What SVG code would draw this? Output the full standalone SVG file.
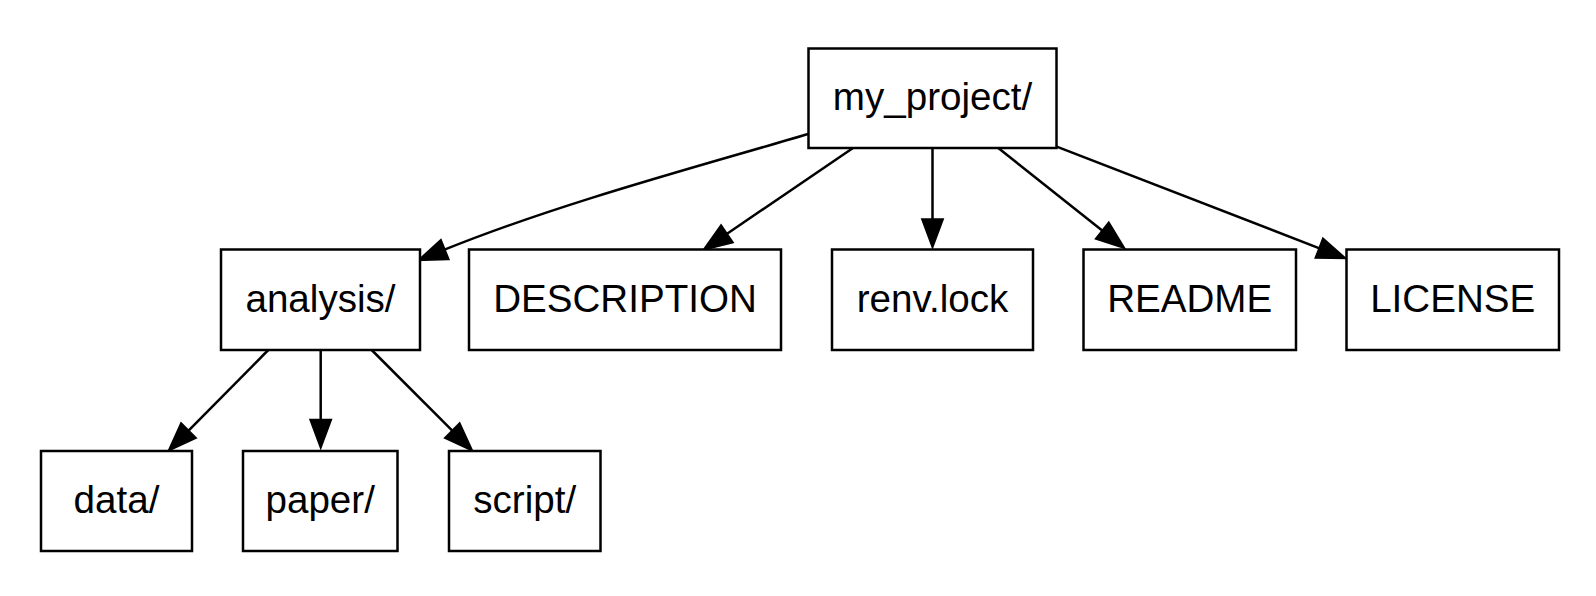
<svg xmlns="http://www.w3.org/2000/svg" width="1596" height="596" viewBox="0 0 1596 596">
  <style>
    .box { fill: #ffffff; stroke: #000000; stroke-width: 2.5; }
    .lbl { font-family: "Liberation Sans", Arial, Helvetica, sans-serif; font-size: 38.6px; fill: #000000; text-anchor: middle; }
    .edge { fill: none; stroke: #000000; stroke-width: 2.5; marker-end: url(#arrow); }
  </style>
  <defs>
    <marker id="arrow" markerUnits="userSpaceOnUse" viewBox="-2 -13 36 26" markerWidth="36" markerHeight="26" refX="0" refY="0" orient="auto">
      <path d="M0,-10 L27,0 L0,10 Z" fill="#000000" stroke="#000000" stroke-width="2.5"/>
    </marker>
  </defs>
  <rect width="1596" height="596" fill="#ffffff"/>

  <g id="connectors">
    <path class="edge" d="M808,134 C700,166 560,203 444.5,249.7"/>
    <path class="edge" d="M853,148 L726.7,234"/>
    <path class="edge" d="M932.5,148 L932.5,219.5"/>
    <path class="edge" d="M998.3,148 L1102.5,230.8"/>
    <path class="edge" d="M1056.7,146.7 L1319.5,248.3"/>
    <path class="edge" d="M268.3,350 L188.3,430.8"/>
    <path class="edge" d="M320.7,350 L320.7,420"/>
    <path class="edge" d="M371.7,350 L452.5,430.8"/>
  </g>

  <g id="node-my_project">
    <rect class="box" x="808.5" y="48.5" width="248" height="99.5"/>
    <text class="lbl" x="932.5" y="110">my_project/</text>
  </g>
  <g id="node-analysis">
    <rect class="box" x="221" y="249.5" width="199" height="100.5"/>
    <text class="lbl" x="320.5" y="311.5">analysis/</text>
  </g>
  <g id="node-DESCRIPTION">
    <rect class="box" x="469" y="249.5" width="312" height="100.5"/>
    <text class="lbl" x="625" y="311.5">DESCRIPTION</text>
  </g>
  <g id="node-renv_lock">
    <rect class="box" x="832" y="249.5" width="201" height="100.5"/>
    <text class="lbl" x="932.5" y="311.5">renv.lock</text>
  </g>
  <g id="node-README">
    <rect class="box" x="1083.5" y="249.5" width="212.5" height="100.5"/>
    <text class="lbl" x="1189.7" y="311.5">README</text>
  </g>
  <g id="node-LICENSE">
    <rect class="box" x="1346.5" y="249.5" width="212.5" height="100.5"/>
    <text class="lbl" x="1452.7" y="311.5">LICENSE</text>
  </g>
  <g id="node-data">
    <rect class="box" x="41" y="451" width="151" height="100"/>
    <text class="lbl" x="116.5" y="512.5">data/</text>
  </g>
  <g id="node-paper">
    <rect class="box" x="243" y="451" width="154.5" height="100"/>
    <text class="lbl" x="320.2" y="512.5">paper/</text>
  </g>
  <g id="node-script">
    <rect class="box" x="449" y="451" width="151.5" height="100"/>
    <text class="lbl" x="524.7" y="512.5">script/</text>
  </g>
</svg>
